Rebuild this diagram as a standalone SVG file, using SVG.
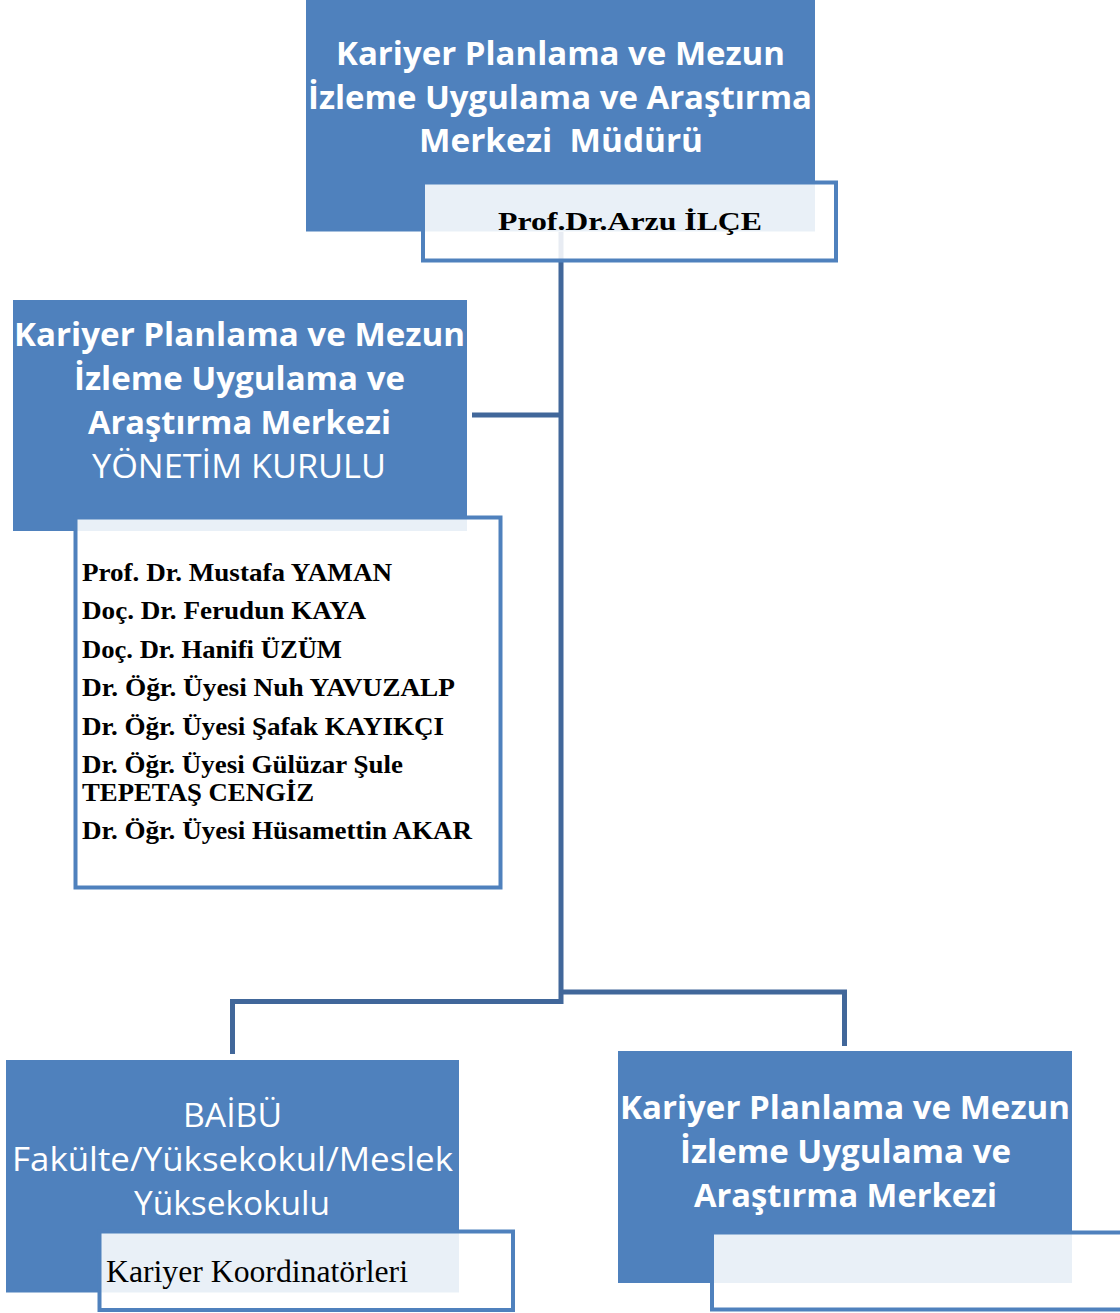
<svg xmlns="http://www.w3.org/2000/svg" width="1120" height="1313" viewBox="0 0 1120 1313">
<style>
.blue{fill:#4f81bd}
.ov{fill:#ffffff;fill-opacity:0.88;stroke:#4f81bd;stroke-width:4}
.conn{fill:none;stroke:#41679a;stroke-width:5}
.hb{font-family:"Open Sans","Liberation Sans",sans-serif;font-weight:bold;font-size:33px;fill:#ffffff}
.hr{font-family:"Open Sans","Liberation Sans",sans-serif;font-weight:normal;font-size:33px;fill:#ffffff}
.tb{font-family:"Liberation Serif","Times New Roman",serif;font-weight:bold;font-size:25.5px;fill:#000000}
.tr{font-family:"Liberation Serif","Times New Roman",serif;font-weight:normal;font-size:31px;fill:#000000}
</style>
<rect width="1120" height="1313" fill="#ffffff"/>
<g id="connectors">
<path class="conn" d="M561 232 V1004"/>
<path class="conn" d="M472 415 H561"/>
<path class="conn" d="M232.5 1054 V1001.5 H561"/>
<path class="conn" d="M561 992 H844.5 V1046"/>
</g>
<g id="node-mudur">
<rect class="blue" x="306" y="0" width="509" height="231.5"/>
<rect class="ov" x="423" y="182.5" width="413" height="78"/>
<text class="hb" x="336" y="65" textLength="449" lengthAdjust="spacingAndGlyphs">Kariyer Planlama ve Mezun</text>
<text class="hb" x="308" y="108.5" textLength="504" lengthAdjust="spacingAndGlyphs">İzleme Uygulama ve Araştırma</text>
<text class="hb" x="419" y="152" textLength="284" lengthAdjust="spacingAndGlyphs" xml:space="preserve">Merkezi  Müdürü</text>
<text class="tb" x="498" y="230" font-size="33" textLength="264" lengthAdjust="spacingAndGlyphs">Prof.Dr.Arzu İLÇE</text>
</g>
<g id="node-yonetim">
<rect class="blue" x="13" y="300" width="454" height="231"/>
<rect class="ov" x="75.5" y="517.5" width="425" height="370"/>
<text class="hb" x="14" y="346" textLength="451" lengthAdjust="spacingAndGlyphs">Kariyer Planlama ve Mezun</text>
<text class="hb" x="74" y="390" textLength="331" lengthAdjust="spacingAndGlyphs">İzleme Uygulama ve</text>
<text class="hb" x="88" y="434" textLength="303" lengthAdjust="spacingAndGlyphs">Araştırma Merkezi</text>
<text class="hr" x="92" y="478" textLength="294" lengthAdjust="spacingAndGlyphs">YÖNETİM KURULU</text>
<text class="tb" x="82" y="580.5" textLength="310" lengthAdjust="spacingAndGlyphs">Prof. Dr. Mustafa YAMAN</text>
<text class="tb" x="82" y="619" textLength="284" lengthAdjust="spacingAndGlyphs">Doç. Dr. Ferudun KAYA</text>
<text class="tb" x="82" y="657.5" textLength="260" lengthAdjust="spacingAndGlyphs">Doç. Dr. Hanifi ÜZÜM</text>
<text class="tb" x="82" y="696" textLength="373" lengthAdjust="spacingAndGlyphs">Dr. Öğr. Üyesi Nuh YAVUZALP</text>
<text class="tb" x="82" y="734.5" textLength="362" lengthAdjust="spacingAndGlyphs">Dr. Öğr. Üyesi Şafak KAYIKÇI</text>
<text class="tb" x="82" y="772.5" textLength="321" lengthAdjust="spacingAndGlyphs">Dr. Öğr. Üyesi Gülüzar Şule</text>
<text class="tb" x="82" y="801" textLength="232" lengthAdjust="spacingAndGlyphs">TEPETAŞ CENGİZ</text>
<text class="tb" x="82" y="838.5" textLength="390" lengthAdjust="spacingAndGlyphs">Dr. Öğr. Üyesi Hüsamettin AKAR</text>
</g>
<g id="node-baibu">
<rect class="blue" x="6" y="1060" width="453" height="232.5"/>
<rect class="ov" x="99.5" y="1231.5" width="413.5" height="78.5"/>
<text class="hr" x="183" y="1127" textLength="99" lengthAdjust="spacingAndGlyphs">BAİBÜ</text>
<text class="hr" x="12" y="1171" textLength="441" lengthAdjust="spacingAndGlyphs">Fakülte/Yüksekokul/Meslek</text>
<text class="hr" x="134" y="1215" textLength="196" lengthAdjust="spacingAndGlyphs">Yüksekokulu</text>
<text class="tr" x="106" y="1282" textLength="302" lengthAdjust="spacingAndGlyphs">Kariyer Koordinatörleri</text>
</g>
<g id="node-merkez">
<rect class="blue" x="618" y="1051" width="454" height="232"/>
<rect class="ov" x="712" y="1232.5" width="430" height="77"/>
<text class="hb" x="620" y="1119" textLength="450" lengthAdjust="spacingAndGlyphs">Kariyer Planlama ve Mezun</text>
<text class="hb" x="680" y="1163" textLength="331" lengthAdjust="spacingAndGlyphs">İzleme Uygulama ve</text>
<text class="hb" x="694" y="1207" textLength="303" lengthAdjust="spacingAndGlyphs">Araştırma Merkezi</text>
</g>
</svg>
